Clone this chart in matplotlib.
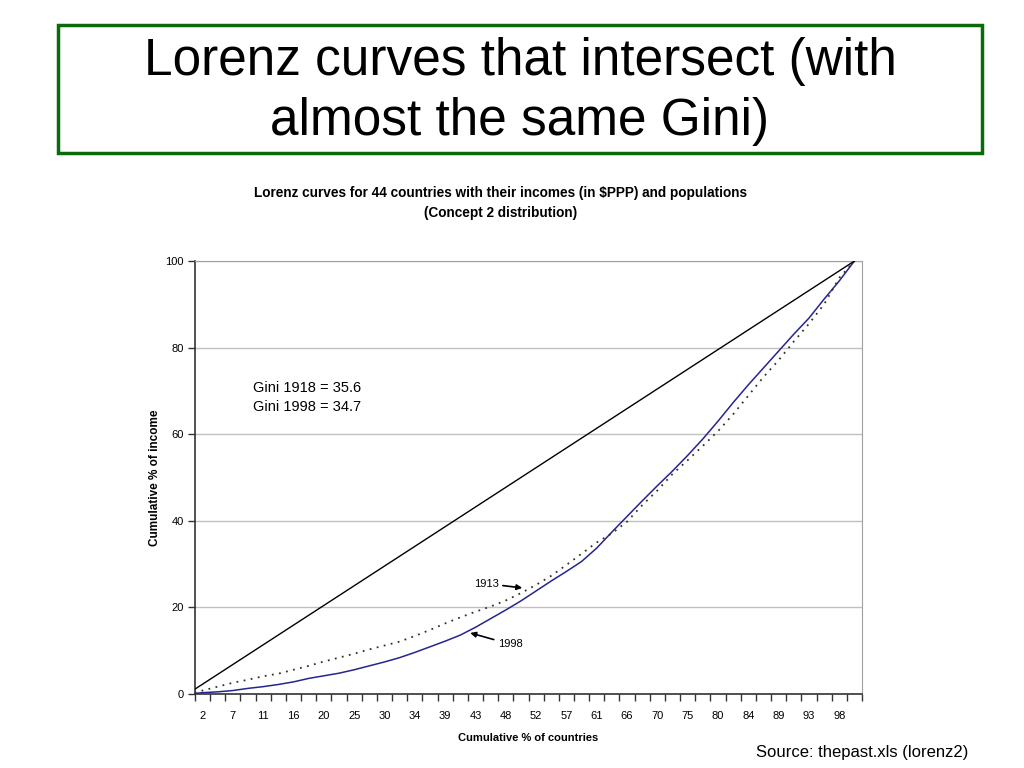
import matplotlib
matplotlib.use("Agg")
import matplotlib.pyplot as plt
import matplotlib.patches as mpatches
from matplotlib.ticker import FixedLocator, NullFormatter

plt.rcParams['font.family'] = ['Liberation Sans', 'DejaVu Sans']

# ---- data ----
n_countries = 44
x_labels = ["2", "7", "11", "16", "20", "25", "30", "34", "39", "43", "48",
            "52", "57", "61", "66", "70", "75", "80", "84", "89", "93", "98"]

income_1998 = [0.3, 0.5, 0.8, 1.3, 1.7, 2.2, 2.8, 3.6, 4.2, 4.8, 5.6,
               6.5, 7.4, 8.4, 9.6, 10.9, 12.2, 13.6, 15.4, 17.4, 19.4, 21.5,
               23.8, 26.1, 28.3, 30.6, 33.7, 37.4, 41.0, 44.6, 48.1, 51.5,
               55.1, 58.9, 63.0, 67.3, 71.4, 75.3, 79.2, 83.1, 86.8, 91.2,
               95.4, 100.0]
income_1913 = [0.8, 1.7, 2.6, 3.3, 4.1, 4.7, 5.6, 6.5, 7.5, 8.4, 9.3,
               10.3, 11.2, 12.1, 13.4, 14.8, 16.3, 17.7, 19.0, 20.2, 21.6, 23.3,
               25.2, 27.3, 29.8, 32.4, 35.0, 37.1, 39.8, 43.6, 47.0, 50.8,
               54.0, 57.3, 60.7, 64.6, 68.9, 73.2, 77.1, 81.4, 85.5, 90.0,
               96.1, 100.0]
equality = [0, 100]

# cumulative % of countries for each category
pct = [100 * (i + 1) / n_countries for i in range(n_countries)]
half = 50 / n_countries

fig = plt.figure(figsize=(10.24, 7.68), dpi=100)

# main title box
fig.patches.append(mpatches.Rectangle((58 / 1024, 1 - 153 / 768), 924 / 1024, 128 / 768,
                                      transform=fig.transFigure, fill=False,
                                      edgecolor='#0b6b0b', linewidth=2.5))
fig.text(520 / 1024, 1 - 62 / 768, "Lorenz curves that intersect (with",
         ha='center', va='center', fontsize=37, color='black')
fig.text(520 / 1024, 1 - 122 / 768, "almost the same Gini)",
         ha='center', va='center', fontsize=37, color='black')

# chart title
fig.text(501 / 1024, 1 - 193 / 768,
         "Lorenz curves for 44 countries with their incomes (in $PPP) and populations",
         ha='center', va='center', fontsize=9.8, fontweight='bold')
fig.text(501 / 1024, 1 - 213 / 768, "(Concept 2 distribution)",
         ha='center', va='center', fontsize=9.8, fontweight='bold')

ax = fig.add_axes([195 / 1024, 1 - 694 / 768, 667 / 1024, 433 / 768])

ax.plot([0] + pct, [0] + income_1998, color='#25258f', linewidth=1.1, zorder=3)
ax.plot([0] + pct, [0] + income_1913, color='#33331f', linewidth=1.3,
        linestyle=(0, (1, 3)), zorder=3)
ax.plot(equality, equality, color='black', linewidth=1.0, zorder=3)

ax.set_xlim(half, 100 + half)
ax.set_ylim(0, 100)

# x ticks: marks at category boundaries, labels at every other category centre
boundaries = [100 * k / n_countries + half for k in range(n_countries + 1)]
ax.xaxis.set_major_locator(FixedLocator(boundaries))
ax.xaxis.set_major_formatter(NullFormatter())
label_pos = [pct[i] for i in range(0, n_countries, 2)]
ax.set_xticks(label_pos, minor=True)
ax.set_xticklabels(x_labels, minor=True, fontsize=8)
ax.tick_params(axis='x', which='minor', length=0, pad=12)
ax.tick_params(axis='x', which='major', length=5, width=1, color='#333333', direction='out')

ax.set_yticks([0, 20, 40, 60, 80, 100])
ax.set_yticklabels(["0", "20", "40", "60", "80", "100"], fontsize=8)
ax.tick_params(axis='y', length=5, width=1, color='#333333', direction='out', pad=3)

ax.grid(axis='y', color='#c0c0c0', linewidth=1)
ax.set_axisbelow(True)
for s in ['top', 'right']:
    ax.spines[s].set_color('#a0a0a0')
for s in ['left', 'bottom']:
    ax.spines[s].set_color('#333333')
    ax.spines[s].set_linewidth(1.2)

ax.set_xlabel("Cumulative % of countries", fontsize=8, fontweight='bold', labelpad=9)
ax.set_ylabel("Cumulative % of income", fontsize=8.5, fontweight='bold', labelpad=3)

ax.text(0.087, 0.685, "Gini 1918 = 35.6\nGini 1998 = 34.7", transform=ax.transAxes,
        fontsize=10.5, va='center', ha='left', linespacing=1.45)

ax.annotate("1913", xy=(50.2, 24.5), xytext=(44.8, 25.5),
            fontsize=8, ha='center', va='center',
            arrowprops=dict(arrowstyle='-|>', color='black', lw=1.2,
                            mutation_scale=8, shrinkA=1, shrinkB=0))
ax.annotate("1998", xy=(42.4, 14.1), xytext=(48.4, 11.5),
            fontsize=8, ha='center', va='center',
            arrowprops=dict(arrowstyle='-|>', color='black', lw=1.2,
                            mutation_scale=8, shrinkA=1, shrinkB=0))

fig.text(968 / 1024, 1 - 753 / 768, "Source: thepast.xls (lorenz2)",
         ha='right', va='center', fontsize=12)

fig.savefig("out.png", dpi=100)
